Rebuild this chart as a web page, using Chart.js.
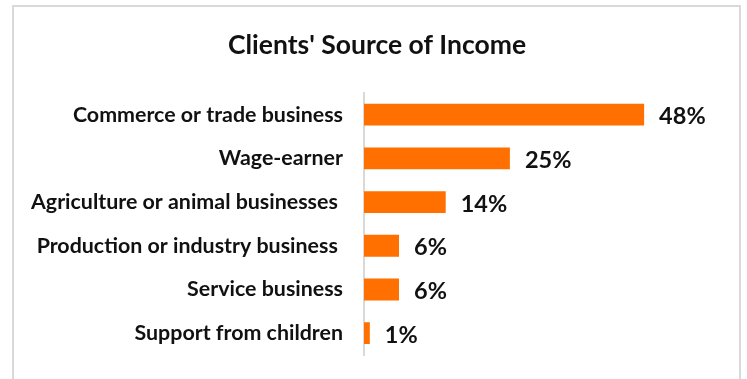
<!DOCTYPE html>
<html>
<head>
<meta charset="utf-8">
<script src="https://cdn.jsdelivr.net/npm/chart.js@4/dist/chart.umd.min.js"></script>
<style>
  html, body { margin: 0; padding: 0; background: #fff; }
  #wrap { position: relative; width: 747px; height: 379px; }
  #frame {
    position: absolute; left: 12px; top: 5px; width: 729px; height: 400px;
    border: 2px solid #d9d9d9; box-sizing: border-box; pointer-events: none;
  }
  canvas { position: absolute; left: 0; top: 0; }
</style>
</head>
<body>
<div id="wrap">
  <canvas id="chart" width="747" height="379"></canvas>
  <div id="frame"></div>
</div>
<script>
// Income sources and their share of clients (%)
const categories = [
  "Commerce or trade business",
  "Wage-earner",
  "Agriculture or animal businesses ",
  "Production or industry business ",
  "Service business",
  "Support from children"
];
const shares = [48, 25, 14, 6, 6, 1];
const chartTitle = "Clients' Source of Income";

// Writes "NN%" just past the end of each bar
const valueLabels = {
  id: 'valueLabels',
  afterDatasetsDraw(chart) {
    const { ctx } = chart;
    const meta = chart.getDatasetMeta(0);
    ctx.save();
    ctx.font = 'bold 23.5px Lato';
    ctx.fillStyle = '#111';
    ctx.textAlign = 'left';
    ctx.textBaseline = 'middle';
    meta.data.forEach((bar, i) => {
      ctx.fillText(shares[i] + '%', bar.x + 15, bar.y + 2);
    });
    ctx.restore();
  }
};

new Chart(document.getElementById('chart'), {
  type: 'bar',
  data: {
    labels: categories,
    datasets: [{
      data: shares,
      backgroundColor: '#ff7000',
      borderWidth: 0,
      categoryPercentage: 1,
      barPercentage: 0.5
    }]
  },
  options: {
    indexAxis: 'y',
    responsive: false,
    animation: false,
    layout: { padding: { left: 13, right: 6, top: 5, bottom: 24 } },
    plugins: {
      legend: { display: false },
      tooltip: { enabled: false },
      title: {
        display: true,
        text: chartTitle,
        color: '#111',
        font: { family: 'Lato', size: 26.5, weight: 'bold', lineHeight: 1.2 },
        padding: { top: 25, bottom: 31 }
      }
    },
    scales: {
      x: {
        display: false,
        min: 0,
        max: 64.6
      },
      y: {
        grid: { display: false, drawTicks: false },
        border: { display: true, color: '#d9d9d9', width: 2 },
        ticks: {
          color: '#111',
          padding: 21,
          font: { family: 'Lato', size: 21.4, weight: 'bold' }
        },
        afterFit(scale) {
          // fixed axis position; labels sit well inside the plot height
          scale.width = 351;
          scale.paddingTop = 0;
          scale.paddingBottom = 0;
        }
      }
    }
  },
  plugins: [valueLabels]
});
</script>
</body>
</html>
